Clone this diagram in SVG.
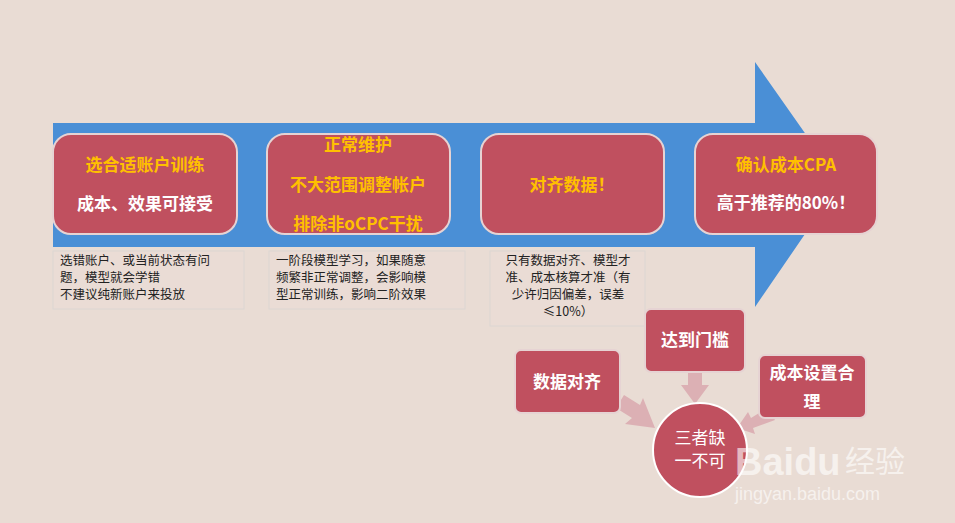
<svg xmlns="http://www.w3.org/2000/svg" width="955" height="523" viewBox="0 0 955 523">
<style>
.box{fill:#c0505f;stroke:#e6d3d3;stroke-width:2}
.note{fill:#eadcd5;stroke:#dcd6d2;stroke-width:1}
.y{font-family:"Noto Sans CJK SC",sans-serif;font-weight:bold;font-size:17px;fill:#ffc000;text-anchor:middle}
.w{font-family:"Noto Sans CJK SC",sans-serif;font-weight:bold;font-size:17px;fill:#fff;text-anchor:middle}
.n{font-family:"Noto Sans CJK SC",sans-serif;font-size:12.5px;fill:#222}
.c{fill:#dcb0b4}
</style>
<rect width="955" height="523" fill="#e9dcd4"/>
<g id="arrow"><polygon points="53,123 755,123 755,62 840,183 755,307 755,247 53,247" fill="#4a8fd6"/></g>
<g id="n1"><rect class="box" x="53" y="134" width="184" height="100" rx="18"/><text class="y" x="145" y="171">选合适账户训练</text><text class="w" x="145" y="210">成本、效果可接受</text></g>
<g id="n2"><rect class="box" x="267" y="134" width="183" height="100" rx="18"/><text class="y" x="358" y="151">正常维护</text><text class="y" x="358" y="191">不大范围调整帐户</text><text class="y" x="358" y="230">排除非oCPC干扰</text></g>
<g id="n3"><rect class="box" x="481" y="134" width="183" height="100" rx="18"/><text class="y" x="572" y="191">对齐数据！</text></g>
<g id="n4"><rect class="box" x="695" y="134" width="182" height="100" rx="18"/><text class="y" x="786" y="171">确认成本CPA</text><text class="w" x="786" y="209">高于推荐的80%！</text></g>
<g id="t1"><rect class="note" x="53" y="251" width="191" height="58"/><text class="n" x="60" y="265">选错账户、或当前状态有问</text><text class="n" x="60" y="282">题，模型就会学错</text><text class="n" x="60" y="299">不建议纯新账户来投放</text></g>
<g id="t2"><rect class="note" x="269" y="251" width="196" height="58"/><text class="n" x="276" y="265">一阶段模型学习，如果随意</text><text class="n" x="276" y="282">频繁非正常调整，会影响模</text><text class="n" x="276" y="299">型正常训练，影响二阶效果</text></g>
<g id="t3"><rect class="note" x="490" y="251" width="155" height="75"/><g class="n" text-anchor="middle"><text x="568" y="265">只有数据对齐、模型才</text><text x="568" y="282">准、成本核算才准（有</text><text x="568" y="299">少许归因偏差，误差</text><text x="568" y="316">≤10%）</text></g></g>
<g id="connectors">
<polygon class="c" points="624,395 640,405 643,398 655,428 625,424 632,418 616,408"/>
<polygon class="c" points="688,373 702,373 702,385 709,385 695,404 681,385 688,385"/>
<polygon class="c" points="767,408 775,420 753,428 755,434 737,428 748,412 751,418"/>
</g>
<g id="n5"><rect class="box" x="515" y="350" width="105" height="63" rx="6"/><text class="w" x="567" y="388">数据对齐</text></g>
<g id="n6"><rect class="box" x="645" y="309" width="100" height="63" rx="6"/><text class="w" x="695" y="346">达到门槛</text></g>
<g id="n7"><rect class="box" x="759" y="355" width="107" height="63" rx="6"/><text class="w" x="812" y="379">成本设置合</text><text class="w" x="812" y="408">理</text></g>
<g id="n8"><circle cx="700" cy="450" r="47" fill="#c0505f" stroke="#fff" stroke-width="2"/><text x="700" y="444" font-family="Noto Sans CJK SC,sans-serif" font-size="17" fill="#fff" text-anchor="middle">三者缺</text><text x="700" y="467" font-family="Noto Sans CJK SC,sans-serif" font-size="17" fill="#fff" text-anchor="middle">一不可</text></g>
<g id="watermark" opacity="0.6" fill="#fff" font-family="Liberation Sans,sans-serif"><text x="735" y="475" font-size="38" font-weight="bold">Baidu</text><text x="845" y="472" font-size="30" font-family="Noto Sans CJK SC,sans-serif">经验</text><text x="735" y="500" font-size="18">jingyan.baidu.com</text></g>
</svg>
